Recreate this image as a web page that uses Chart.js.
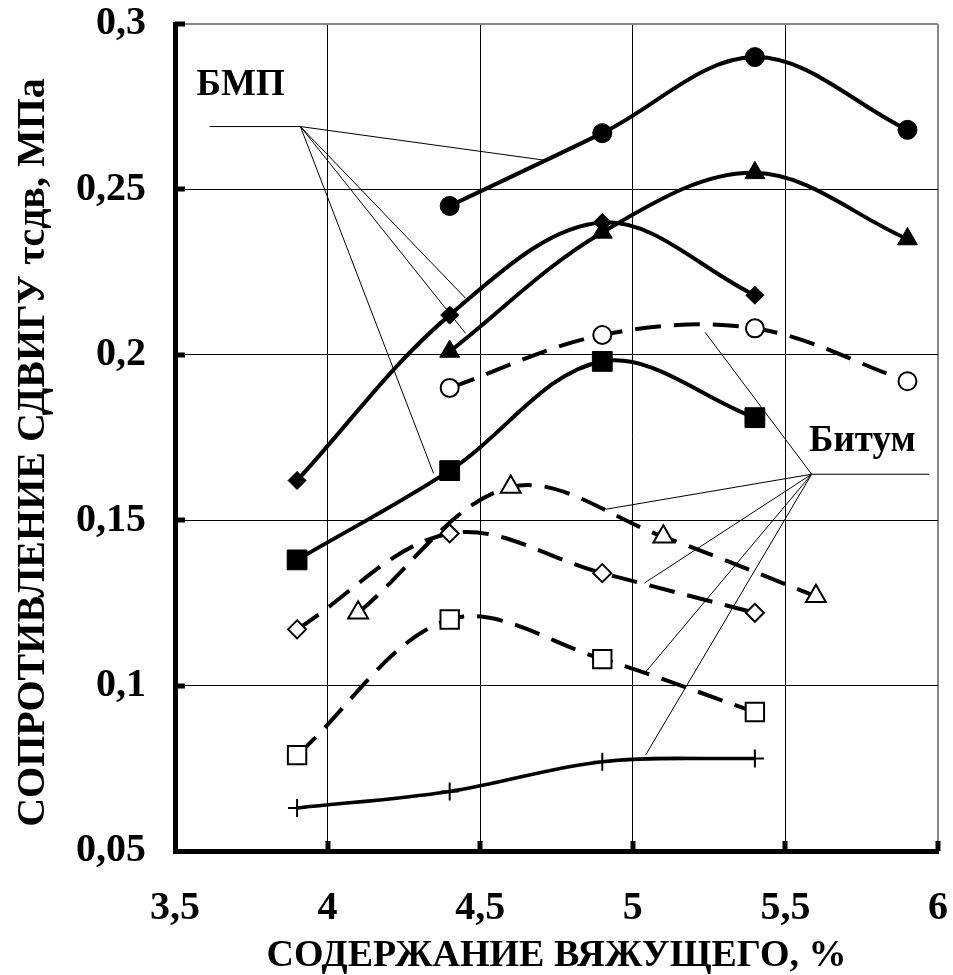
<!DOCTYPE html>
<html>
<head>
<meta charset="utf-8">
<script src="https://cdn.jsdelivr.net/npm/chart.js@4.4.1/dist/chart.umd.min.js"></script>
<style>
  body { margin: 0; background: #fff; }
</style>
</head>
<body>
<canvas id="chart" width="953" height="975"></canvas>
<script>
// x positions (binder content, %)
const xLeft = [3.9, 4.4, 4.9, 5.4]
const xMid = [4.1, 4.6, 5.1, 5.6]
const xRight = [4.4, 4.9, 5.4, 5.9]

// БМП series (filled markers, solid lines)
const bmpCircle = [0.245, 0.267, 0.290, 0.268]
const bmpTriangle = [0.201, 0.237, 0.255, 0.235]
const bmpDiamond = [0.162, 0.212, 0.240, 0.218]
const bmpSquare = [0.138, 0.165, 0.198, 0.181]

// Битум series (open markers, dashed lines) + cross
const bitCircle = [0.190, 0.206, 0.208, 0.192]
const bitTriangle = [0.122, 0.160, 0.145, 0.127]
const bitDiamond = [0.117, 0.146, 0.134, 0.122]
const bitSquare = [0.079, 0.120, 0.108, 0.092]
const bitCross = [0.063, 0.068, 0.077, 0.078]

// leader lines of the labels, in data units
const bmpLabelPos = [3.715, 0.2813]
const bmpLeader = [[3.614, 0.269], [3.911, 0.269]]
const bmpTargets = [[4.713, 0.2588], [4.452, 0.2171], [4.452, 0.2065], [4.347, 0.1642]]
const bitLabelPos = [5.752, 0.1739]
const bitLeader = [[5.971, 0.1639], [5.586, 0.1639]]
const bitTargets = [[5.237, 0.2068], [4.911, 0.1533], [5.038, 0.131], [5.042, 0.1041], [5.042, 0.079]]

const FONT = "'Liberation Serif', 'Times New Roman', serif"

function points(xs, ys) {
  return xs.map((x, i) => ({ x: x, y: ys[i] }))
}

function filledSeries(xs, ys, style, radius) {
  return {
    data: points(xs, ys),
    borderColor: "#000",
    backgroundColor: "#000",
    borderWidth: 4,
    tension: 0.35,
    pointStyle: style,
    pointRadius: radius,
    pointBackgroundColor: "#000",
    pointBorderColor: "#000",
    pointBorderWidth: 1
  }
}

function openSeries(xs, ys, style, radius) {
  return {
    data: points(xs, ys),
    borderColor: "#000",
    backgroundColor: "#fff",
    borderWidth: 4,
    borderDash: [26, 13],
    tension: 0.35,
    pointStyle: style,
    pointRadius: radius,
    pointBackgroundColor: "#fff",
    pointBorderColor: "#000",
    pointBorderWidth: 2
  }
}

function formatComma(v) {
  return String(+v.toFixed(2)).replace(".", ",")
}

function drawLeader(ctx, px, leader, targets) {
  const a = px(leader[0])
  const b = px(leader[1])
  ctx.beginPath()
  ctx.moveTo(a[0], a[1])
  ctx.lineTo(b[0], b[1])
  for (const t of targets) {
    const p = px(t)
    ctx.moveTo(b[0], b[1])
    ctx.lineTo(p[0], p[1])
  }
  ctx.stroke()
}

const annotationPlugin = {
  id: "annotations",
  afterDatasetsDraw(chart) {
    const { ctx, scales: { x, y } } = chart
    const px = p => [x.getPixelForValue(p[0]), y.getPixelForValue(p[1])]
    ctx.save()
    ctx.strokeStyle = "#000"
    ctx.lineWidth = 1
    drawLeader(ctx, px, bmpLeader, bmpTargets)
    drawLeader(ctx, px, bitLeader, bitTargets)

    ctx.fillStyle = "#000"
    ctx.font = "bold 37px " + FONT
    ctx.textAlign = "center"
    ctx.textBaseline = "middle"
    let p = px(bmpLabelPos)
    ctx.fillText("БМП", p[0], p[1])
    p = px(bitLabelPos)
    ctx.fillText("Битум", p[0], p[1])

    // inward tick marks
    const bottom = chart.chartArea.bottom
    const left = chart.chartArea.left
    x.ticks.forEach(t => {
      if (t.value <= x.min) return
      const xp = Math.round(x.getPixelForValue(t.value))
      ctx.fillRect(xp - 2.5, bottom - 10, 5, 10)
    })
    y.ticks.forEach(t => {
      if (t.value <= y.min + 1e-9) return
      const yp = Math.round(y.getPixelForValue(t.value))
      ctx.fillRect(left, yp - 2.5, 10, 5)
    })
    ctx.restore()
  }
}

const whiteBackground = {
  id: "whiteBackground",
  beforeDraw(chart) {
    const ctx = chart.ctx
    ctx.save()
    ctx.fillStyle = "#fff"
    ctx.fillRect(0, 0, chart.width, chart.height)
    ctx.restore()
  }
}

new Chart(document.getElementById("chart"), {
  type: "line",
  data: {
    datasets: [
      filledSeries(xRight, bmpCircle, "circle", 9.5),
      filledSeries(xRight, bmpTriangle, "triangle", 11.5),
      filledSeries(xLeft, bmpDiamond, "rectRot", 9),
      filledSeries(xLeft, bmpSquare, "rect", 14),
      openSeries(xRight, bitCircle, "circle", 9),
      openSeries(xMid, bitTriangle, "triangle", 11.5),
      openSeries(xLeft, bitDiamond, "rectRot", 9),
      openSeries(xLeft, bitSquare, "rect", 13),
      {
        data: points(xLeft, bitCross),
        borderColor: "#000",
        borderWidth: 3.5,
        tension: 0.35,
        pointStyle: "cross",
        pointRadius: 9,
        pointBorderColor: "#000",
        pointBorderWidth: 2
      }
    ]
  },
  options: {
    responsive: false,
    animation: false,
    devicePixelRatio: 1,
    layout: {
      padding: { top: 24, right: 11, left: 0, bottom: 0 }
    },
    plugins: {
      legend: { display: false },
      tooltip: { enabled: false }
    },
    scales: {
      x: {
        type: "linear",
        min: 3.5,
        max: 6,
        afterFit: scale => {
          scale.height = 124
          scale.paddingLeft = 0
          scale.paddingRight = 0
        },
        ticks: {
          stepSize: 0.5,
          padding: 34,
          color: "#000",
          font: { family: FONT, size: 40, weight: "bold" },
          callback: v => formatComma(v)
        },
        grid: {
          drawTicks: false,
          color: c => (c.tick && c.tick.value === 6 ? "#888" : "#000"),
          lineWidth: c => (c.tick && c.tick.value === 6 ? 2 : 1)
        },
        border: { display: true, color: "#000", width: 5 },
        title: {
          display: true,
          text: "СОДЕРЖАНИЕ ВЯЖУЩЕГО, %",
          color: "#000",
          padding: { top: 0, bottom: 0 },
          font: { family: FONT, size: 38, weight: "bold", lineHeight: 1 }
        }
      },
      y: {
        type: "linear",
        min: 0.05,
        max: 0.3,
        afterFit: scale => {
          scale.width = 175
          scale.paddingTop = 0
          scale.paddingBottom = 0
        },
        ticks: {
          stepSize: 0.05,
          padding: 29,
          color: "#000",
          font: { family: FONT, size: 40, weight: "bold" },
          callback: v => formatComma(v)
        },
        grid: {
          drawTicks: false,
          color: c => (c.tick && Math.abs(c.tick.value - 0.3) < 1e-6 ? "#888" : "#000"),
          lineWidth: c => (c.tick && Math.abs(c.tick.value - 0.3) < 1e-6 ? 2 : 1)
        },
        border: { display: true, color: "#000", width: 5 },
        title: {
          display: true,
          // trailing no-break spaces nudge the rotated title down a little
          text: "СОПРОТИВЛЕНИЕ СДВИГУ τсдв, МПа\u00A0\u00A0\u00A0",
          color: "#000",
          padding: { top: 14, bottom: 0 },
          font: { family: FONT, size: 40, weight: "bold", lineHeight: 1 }
        }
      }
    }
  },
  plugins: [whiteBackground, annotationPlugin]
})
</script>
</body>
</html>
